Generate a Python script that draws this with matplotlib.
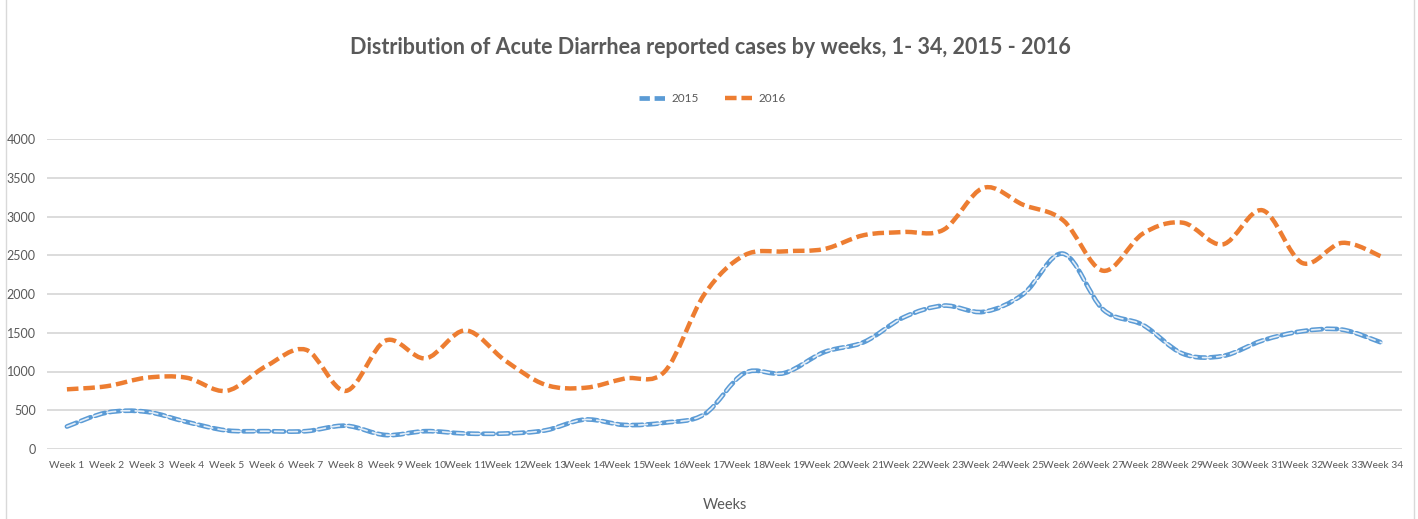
import numpy as np
import matplotlib
matplotlib.use("Agg")
import matplotlib.pyplot as plt
from matplotlib.path import Path
from matplotlib.patches import PathPatch, Rectangle
from matplotlib.lines import Line2D

# ---------------------------------------------------------------
# data
# ---------------------------------------------------------------
weeks = [f"Week {i}" for i in range(1, 35)]
cases_2015 = [290, 470, 480, 350, 240, 230, 230, 300, 180, 230,
              200, 200, 240, 380, 310, 340, 450, 980, 980, 1250,
              1380, 1700, 1850, 1770, 2000, 2520, 1800, 1600, 1230, 1200,
              1400, 1520, 1540, 1370]
cases_2016 = [770, 810, 920, 920, 750, 1070, 1280, 750, 1400, 1170,
              1530, 1140, 830, 790, 910, 1000, 2000, 2500, 2550, 2580,
              2760, 2800, 2830, 3370, 3150, 2950, 2300, 2780, 2920, 2640,
              3080, 2400, 2660, 2480]

plt.rcParams["font.family"] = ["Lato", "DejaVu Sans"]

GRAY = "#595959"
BLUE = "#5B9BD5"
ORANGE = "#ED7D31"


def smooth_path(x, y):
    """Excel-like smoothed line as cubic bezier path through the points."""
    pts = np.column_stack([x, y]).astype(float)
    n = len(pts)
    verts = [pts[0]]
    codes = [Path.MOVETO]
    for i in range(n - 1):
        p0 = pts[i - 1] if i > 0 else pts[i]
        p1 = pts[i]
        p2 = pts[i + 1]
        p3 = pts[i + 2] if i + 2 < n else pts[i + 1]
        c1 = p1 + (p2 - p0) / 6.0
        c2 = p2 - (p3 - p1) / 6.0
        verts += [c1, c2, p2]
        codes += [Path.CURVE4] * 3
    return Path(verts, codes)


W, H = 1418, 519
fig = plt.figure(figsize=(W / 100, H / 100), dpi=100)
ax = fig.add_axes([47 / W, 1 - 449 / H, (1402 - 47) / W, (449 - 139) / H])

x = np.arange(1, len(weeks) + 1)

# 2015: outlined dashes (blue edge, light core)
p15 = smooth_path(x, cases_2015)
ax.add_patch(PathPatch(p15, facecolor="none", edgecolor=BLUE, lw=3.4,
                       linestyle=(0, (2.2, 1.0)), capstyle="round", zorder=3))
ax.add_patch(PathPatch(p15, facecolor="none", edgecolor="#e4eef8", lw=1.2,
                       linestyle=(0, (5.2, 3.3)), capstyle="round", zorder=4))

# 2016: thick orange dashes
p16 = smooth_path(x, cases_2016)
ax.add_patch(PathPatch(p16, facecolor="none", edgecolor=ORANGE, lw=3.2,
                       linestyle=(0, (2.6, 1.1)), zorder=5))

ax.set_xlim(0.5, len(weeks) + 0.5)
ax.set_ylim(0, 4000)
ax.set_yticks(np.arange(0, 4001, 500))
ax.set_xticks(x)
ax.set_xticklabels(weeks, fontsize=7.4, color=GRAY)
ax.tick_params(axis="y", labelsize=9, labelcolor=GRAY, length=0, pad=8)
ax.tick_params(axis="x", length=0, pad=9)
ax.grid(axis="y", color="#d9d9d9", lw=1.3)
ax.set_axisbelow(True)
for s in ax.spines.values():
    s.set_visible(False)

ax.set_xlabel("Weeks", fontsize=10.5, color=GRAY, labelpad=20)

fig.text(710 / W, 1 - 47 / H,
         "Distribution of Acute Diarrhea reported cases by weeks, 1- 34, 2015 - 2016",
         ha="center", va="center", fontsize=15.5, fontweight="bold", color=GRAY)

handles = [Line2D([], [], color=BLUE, lw=3.4, linestyle=(0, (2.2, 1.0))),
           Line2D([], [], color=ORANGE, lw=3.2, linestyle=(0, (2.6, 1.1)))]
fig.legend(handles, ["2015", "2016"], loc="center", bbox_to_anchor=(712 / W, 1 - 99 / H),
           ncol=2, frameon=False, fontsize=8.5, labelcolor=GRAY,
           handlelength=2.3, columnspacing=2.2, handletextpad=0.5)

# chart border
fig.add_artist(Rectangle((6 / W, -0.01), (1414 - 6) / W, 1.02, transform=fig.transFigure,
                         fill=False, edgecolor="#d9d9d9", lw=1))

fig.savefig("out.png", dpi=100)
